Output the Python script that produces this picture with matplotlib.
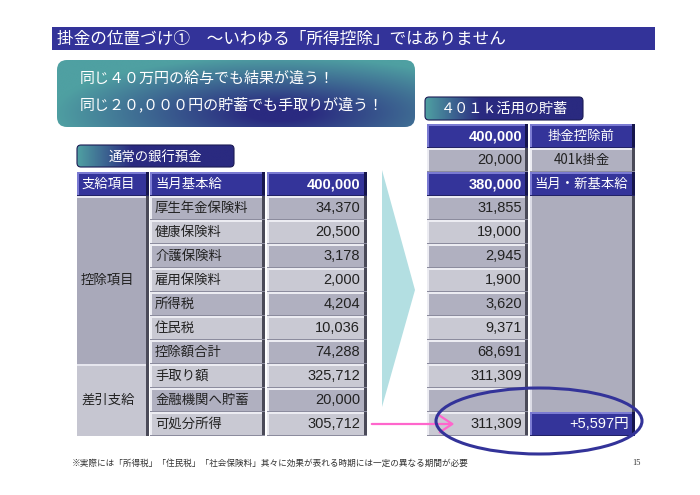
import matplotlib
matplotlib.use('Agg')
import matplotlib.pyplot as plt
from matplotlib.patches import Rectangle, FancyBboxPatch, Polygon, Ellipse, FancyArrowPatch
from matplotlib.colors import LinearSegmentedColormap
import numpy as np

plt.rcParams['font.family'] = ['Noto Sans CJK JP', 'DejaVu Sans']

# ---------------- data ----------------
title = "掛金の位置づけ①　～いわゆる「所得控除」ではありません"
callout_lines = ["同じ４０万円の給与でも結果が違う！", "同じ２０,０００円の貯蓄でも手取りが違う！"]
left_title = "通常の銀行預金"
right_title = "４０１ｋ活用の貯蓄"
left_groups = ["支給項目", "控除項目", "差引支給"]
left_group_rows = [1, 7, 3]
left_items = ["当月基本給", "厚生年金保険料", "健康保険料", "介護保険料", "雇用保険料",
              "所得税", "住民税", "控除額合計", "手取り額", "金融機関へ貯蓄", "可処分所得"]
left_values = [400000, 34370, 20500, 3178, 2000, 4204, 10036, 74288, 325712, 20000, 305712]
right_values = [400000, 20000, 380000, 31855, 19000, 2945, 1900, 3620, 9371, 68691,
                311309, None, 311309]
right_labels = ["掛金控除前", "401k掛金", "当月・新基本給"]
footnote = "※実際には「所得税」「住民税」「社会保険料」其々に効果が表れる時期には一定の異なる期間が必要"
page_no = "15"

NUM_FONT = ['Liberation Sans', 'Noto Sans CJK JP']
LAB_FS = 9.6

fig = plt.figure(figsize=(7.0, 4.95), dpi=100)
ax = fig.add_axes([0, 0, 1, 1])
ax.set_axis_off()

NAVY = '#34349a'
cmap_tn = LinearSegmentedColormap.from_list('tn', ['#4fa0a2', '#2a2a80'])


def grad_box(x0, y0, w, h, r, arr, ec='none', z=2):
    patch = FancyBboxPatch((x0, y0), w, h, boxstyle=f"round,pad=0,rounding_size={r}",
                           fc='none', ec=ec, lw=0.8, zorder=z + 1)
    ax.add_patch(patch)
    im = ax.imshow(arr, extent=(x0, x0 + w, y0 + h, y0), cmap=cmap_tn, vmin=0, vmax=1,
                   aspect='auto', interpolation='bicubic', zorder=z)
    im.set_clip_path(patch)


def cell(x0, x1, y0, y1, kind='gray', dark=False):
    if kind == 'navy':
        face, hi, sh, bot = NAVY, '#7b7bd2', '#16164c', '#222266'
    else:
        face = '#b0b0c0' if dark else '#c9c9d3'
        hi, sh, bot = '#ececf2', '#4a4a58', '#8c8c9e'
    ax.add_patch(Rectangle((x0, y0), x1 - x0, y1 - y0, fc=face, ec='none', zorder=2))
    ax.add_patch(Rectangle((x0, y0), x1 - x0, 2, fc=hi, ec='none', zorder=3))
    ax.add_patch(Rectangle((x0, y0), 2, y1 - y0, fc=hi, ec='none', zorder=3))
    ax.add_patch(Rectangle((x1 - 3, y0), 3, y1 - y0, fc=sh, ec='none', zorder=3))
    ax.add_patch(Rectangle((x0, y1 - 1.5), x1 - x0, 1.5, fc=bot, ec='none', zorder=3))


# ---------------- title bar ----------------
ax.add_patch(Rectangle((52, 27), 603, 23, fc='#333399', ec='none', zorder=2))
ax.text(57, 39, title, color='white', fontsize=12, va='center', ha='left', zorder=4)

# ---------------- callout box ----------------
nx, ny = 240, 60
u, v = np.meshgrid(np.linspace(0, 1, nx), np.linspace(0, 1, ny))
t = np.clip(1.15 - np.sqrt(((u - 0.62) / 0.55) ** 2 + ((v - 0.8) / 0.75) ** 2), 0, 1)
grad_box(57, 60, 358, 67, 10, t)
ax.text(80, 79, callout_lines[0], color='white', fontsize=10.8, va='center', zorder=5)
ax.text(80, 104, callout_lines[1], color='white', fontsize=10.8, va='center', zorder=5)

# ---------------- small labels ----------------
lab = np.clip(np.linspace(0, 1, 200) / 0.35, 0, 1)[None, :].repeat(5, axis=0)
grad_box(77, 145, 157, 22, 4, lab, ec='#1c1c55')
ax.text(155, 156.5, left_title, color='white', fontsize=9.6, ha='center', va='center', zorder=5)
grad_box(425, 97, 158, 23, 4, lab, ec='#1c1c55')
ax.text(504, 109, right_title, color='white', fontsize=10.2, ha='center', va='center', zorder=5)

# ---------------- left table ----------------
RH = 24
top_left = 172
c1 = (77, 149)
c2 = (150, 265)
c3 = (267, 367)

r = 0
for gi, (gname, nrows) in enumerate(zip(left_groups, left_group_rows)):
    y0 = top_left + r * RH
    y1 = y0 + nrows * RH
    if gi == 0:
        cell(c1[0], c1[1], y0, y1, 'navy')
        col = 'white'
    else:
        ax.add_patch(Rectangle((c1[0], y0), c1[1] - c1[0], y1 - y0,
                               fc='#a9a9ba' if gi == 1 else '#c6c6d1', ec='none', zorder=2))
        ax.add_patch(Rectangle((c1[0], y0), c1[1] - c1[0], 2, fc='#e6e6ee', ec='none', zorder=3))
        ax.add_patch(Rectangle((c1[1] - 3, y0), 3, y1 - y0, fc='#4a4a58', ec='none', zorder=3))
        col = '#222222'
    ax.text(c1[0] + 4, (y0 + y1) / 2, gname, color=col, fontsize=LAB_FS, va='center', zorder=5)
    r += nrows

for i, (item, val) in enumerate(zip(left_items, left_values)):
    y0 = top_left + i * RH
    y1 = y0 + RH
    if i == 0:
        cell(c2[0], c2[1], y0, y1, 'navy')
        cell(c3[0], c3[1], y0, y1, 'navy')
        ax.text(c2[0] + 5, (y0 + y1) / 2, item, color='white', fontsize=LAB_FS, va='center', zorder=5)
        ax.text(c3[1] - 7, (y0 + y1) / 2 + 0.5, f"{val:,}", color='white', fontsize=10.5,
                fontweight='bold', family=NUM_FONT, ha='right', va='center', zorder=5)
    else:
        dark = (i % 2 == 1)
        cell(c2[0], c2[1], y0, y1, 'gray', dark)
        cell(c3[0], c3[1], y0, y1, 'gray', dark)
        ax.text(c2[0] + 5, (y0 + y1) / 2, item, color='#222222', fontsize=LAB_FS, va='center', zorder=5)
        ax.text(c3[1] - 7, (y0 + y1) / 2 + 0.5, f"{val:,}", color='#222222', fontsize=10.5,
                family=NUM_FONT, ha='right', va='center', zorder=5)

# ---------------- arrow triangle ----------------
ax.add_patch(Polygon([(382, 170), (415, 290), (382, 407)], closed=True,
                     fc='#b3dfe2', ec='none', zorder=1))

# ---------------- right table ----------------
top_right = 124
ca = (427, 528)
cb = (530, 635)
for j, val in enumerate(right_values):
    y0 = top_right + j * RH
    y1 = y0 + RH
    if j in (0, 2):
        cell(ca[0], ca[1], y0, y1, 'navy')
        if val is not None:
            ax.text(ca[1] - 6, (y0 + y1) / 2 + 0.5, f"{val:,}", color='white', fontsize=10.5,
                    fontweight='bold', family=NUM_FONT, ha='right', va='center', zorder=5)
    else:
        cell(ca[0], ca[1], y0, y1, 'gray', j % 2 == 1)
        if val is not None:
            ax.text(ca[1] - 6, (y0 + y1) / 2 + 0.5, f"{val:,}", color='#222222', fontsize=10.5,
                    family=NUM_FONT, ha='right', va='center', zorder=5)

for j, lab_txt in enumerate(right_labels):
    y0 = top_right + j * RH
    y1 = y0 + RH
    kind = 'gray' if j == 1 else 'navy'
    cell(cb[0], cb[1], y0, y1, kind, True)
    ax.text((cb[0] + cb[1]) / 2 - 1, (y0 + y1) / 2, lab_txt,
            color='#222222' if kind == 'gray' else 'white',
            fontsize=LAB_FS, ha='center', va='center', zorder=5)

# merged gray block
n = len(right_values)
ym0 = top_right + len(right_labels) * RH
ym1 = top_right + (n - 1) * RH
ax.add_patch(Rectangle((cb[0], ym0), cb[1] - cb[0], ym1 - ym0, fc='#adadbd', ec='none', zorder=2))
ax.add_patch(Rectangle((cb[0], ym0), 2, ym1 - ym0, fc='#dcdce6', ec='none', zorder=3))
ax.add_patch(Rectangle((cb[1] - 3, ym0), 3, ym1 - ym0, fc='#4a4a58', ec='none', zorder=3))

# difference cell
diff = right_values[-1] - left_values[-1]
y0 = top_right + (n - 1) * RH
cell(cb[0], cb[1], y0, y0 + RH, 'navy')
ax.text(cb[1] - 6, y0 + RH / 2 + 0.5, f"+{diff:,}円", color='white', fontsize=10.5,
        family=NUM_FONT, ha='right', va='center', zorder=5)

# ---------------- pink arrow & ellipse ----------------
ay = top_left + (len(left_values) - 1) * RH + RH / 2
ax.add_patch(FancyArrowPatch((369, ay), (457, ay), arrowstyle='->,head_length=6,head_width=4',
                             color='#ff66cc', lw=1.6, zorder=6, mutation_scale=1.5))
ax.add_patch(Ellipse((539, 421), 206, 66, fc='none', ec='#333399', lw=2.2, zorder=6))

# ---------------- footnote ----------------
ax.text(72, 463, footnote, color='#333333', fontsize=6.2, va='center', ha='left', zorder=5)
ax.text(632, 463, page_no, color='#333333', fontsize=6, family=['Liberation Serif'],
        va='center', ha='left', zorder=5)

ax.set_xlim(0, 700)
ax.set_ylim(495, 0)
fig.savefig('out.png', dpi=100, facecolor='white')
